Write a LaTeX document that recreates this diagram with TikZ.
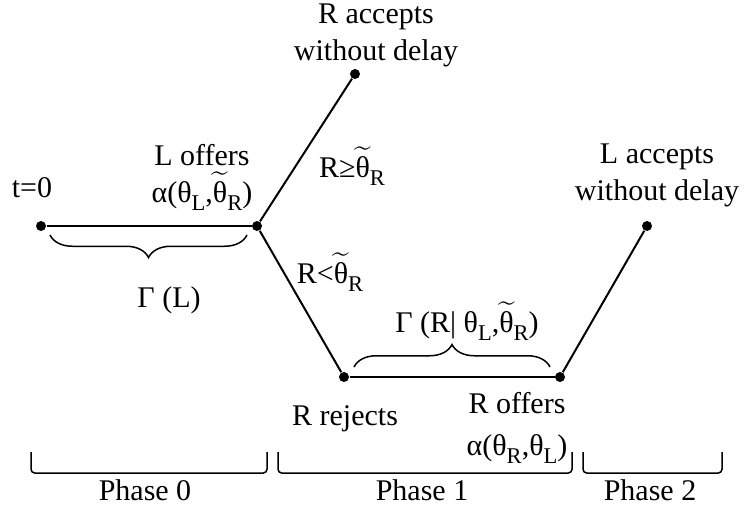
\documentclass[tikz,border=0pt]{standalone}
\usepackage{amsmath}
\usepackage{fontspec}
\setmainfont{Liberation Serif}
\usetikzlibrary{decorations.pathreplacing,positioning}
\tikzset{
    dot/.style={circle, fill=black, inner sep=0pt, minimum size=4pt},
    edge/.style={draw, thick},
    lbl/.style={anchor=base, align=center, inner sep=0pt},
    brc/.style={draw, semithick, decorate, decoration={brace, amplitude=9pt}},
    phasebox/.style={draw, semithick, rounded corners=1.5pt}
}
\newcommand{\tth}{\ensuremath{\widetilde{\mbox{θ}}}}
\newcommand{\sub}[1]{\raisebox{-3.5pt}{\fontsize{9}{9}\selectfont #1}}

\begin{document}
\begin{tikzpicture}[x=0.4pt, y=-0.4pt, font=\fontsize{12}{14.5}\selectfont]
    \useasboundingbox (0,0) rectangle (744,508);
    % Nodes
    \node[dot] (S) at (41,226) {};
    \node[dot] (LO) at (257,226) {};
    \node[dot] (RA) at (355,74) {};
    \node[dot] (RR) at (344,377) {};
    \node[dot] (RO) at (560,377) {};
    \node[dot] (LA) at (647,226) {};

    % edges
    \draw[edge] (S) -- (LO);
    \draw[edge] (LO) -- (RA);
    \draw[edge] (LO) -- (RR);
    \draw[edge] (RR) -- (RO);
    \draw[edge] (RO) -- (LA);

    % labels
    \node[lbl] (t0) at (32,197) {t=0};
    \node[lbl] (offerL) at (202,202) {L offers\\α(θ\sub{L},\tth\sub{R})};
    \node[lbl] (acceptR) at (376,60) {R accepts\\without delay};
    \node[lbl] (acceptL) at (657,200) {L accepts\\without delay};
    \node[lbl] (geq) at (352,177) {R≥\tth\sub{R}};
    \node[lbl] (less) at (330,283) {R<\tth\sub{R}};
    \node[lbl] (reject) at (345,425) {R rejects};
    \node[lbl] (offerR) at (517,455) {R offers\\[2pt]α(θ\sub{R},θ\sub{L})};

    % braces
    \coordinate (b1) at (50,235);
    \coordinate (b2) at (247,235);
    \coordinate (b3) at (354,367);
    \coordinate (b4) at (550,367);
    \draw[brc] (b2) -- (b1);
    \draw[brc] (b3) -- (b4);
    \node[lbl] (gammaL) at (169,307) {Γ (L)};
    \node[lbl] (gammaR) at (467,332) {Γ (R| θ\sub{L},\tth\sub{R})};

    % phases
    \draw[phasebox] (31,452) |- (267,473) -- (267,452);
    \draw[phasebox] (278,452) |- (572,473) -- (572,452);
    \draw[phasebox] (583,452) |- (722,473) -- (722,452);
    \node[lbl] (ph0) at (145,500) {Phase 0};
    \node[lbl] (ph1) at (422,500) {Phase 1};
    \node[lbl] (ph2) at (650,500) {Phase 2};
\end{tikzpicture}
\end{document}
